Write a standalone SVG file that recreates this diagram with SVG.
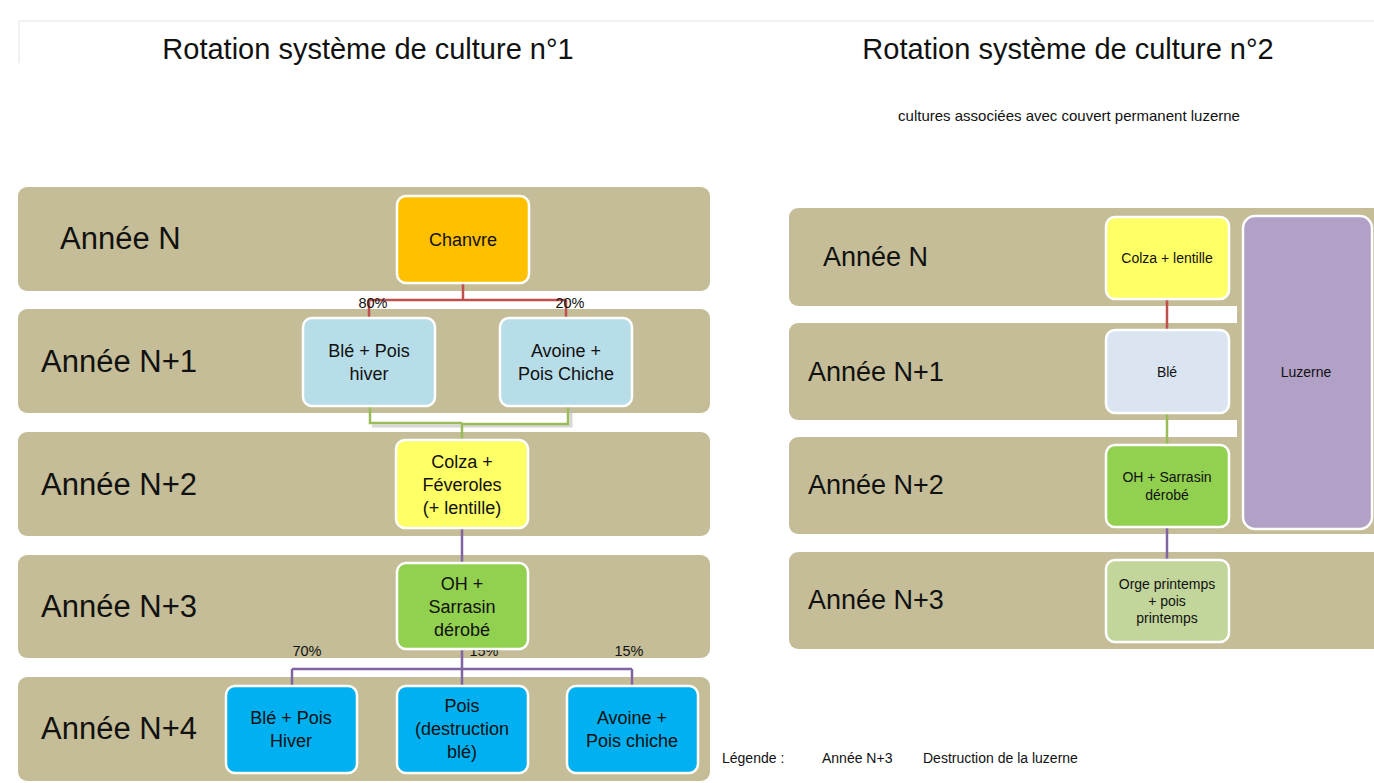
<svg xmlns="http://www.w3.org/2000/svg" width="1374" height="783" viewBox="0 0 1374 783">
<style>
text{font-family:"Liberation Sans",Arial,sans-serif;fill:#111}
.band{fill:#C4BD97}
.box{stroke:#fff;stroke-width:2.5}
.title{font-size:29px}
.rowL{font-size:31px}
.rowR{font-size:27px}
.nl{font-size:18px;text-anchor:middle}
.nr{font-size:14px;text-anchor:middle}
.pct{font-size:14.5px;text-anchor:middle}
.small{font-size:15px}
.leg{font-size:14px}
.c{fill:none;stroke-width:2.5}
.red{stroke:#C0504D}
.green{stroke:#9BBB59}
.purple{stroke:#8064A2}
</style>
<rect width="1374" height="783" fill="#fff"/>
<g id="frame">
<line x1="19" y1="21" x2="1374" y2="21" stroke="#ececec" stroke-width="1.5"/>
<line x1="19" y1="21" x2="19" y2="63" stroke="#ececec" stroke-width="1.5"/>
</g>
<g id="titles">
<text class="title" x="368" y="59" text-anchor="middle">Rotation système de culture n°1</text>
<text class="title" x="1068" y="59" text-anchor="middle">Rotation système de culture n°2</text>
<text class="small" x="1069" y="121" text-anchor="middle">cultures associées avec couvert permanent luzerne</text>
</g>
<g id="bands-left">
<g id="rowL-N"><rect class="band" x="18" y="187" width="692" height="104" rx="9"/><text class="rowL" x="60" y="249">Année N</text></g>
<g id="rowL-N1"><rect class="band" x="18" y="309" width="692" height="104" rx="9"/><text class="rowL" x="41" y="372">Année N+1</text></g>
<g id="rowL-N2"><rect class="band" x="18" y="432" width="692" height="104" rx="9"/><text class="rowL" x="41" y="495">Année N+2</text></g>
<g id="rowL-N3"><rect class="band" x="18" y="555" width="692" height="103" rx="9"/><text class="rowL" x="41" y="617">Année N+3</text></g>
<g id="rowL-N4"><rect class="band" x="18" y="677" width="692" height="104" rx="9"/><text class="rowL" x="41" y="739">Année N+4</text></g>
</g>
<g id="bands-right">
<rect class="band" x="1237" y="208" width="150" height="326"/>
<g id="rowR-N"><rect class="band" x="789" y="208" width="600" height="98" rx="9"/><text class="rowR" x="823" y="266">Année N</text></g>
<g id="rowR-N1"><rect class="band" x="789" y="323" width="600" height="97" rx="9"/><text class="rowR" x="808" y="381">Année N+1</text></g>
<g id="rowR-N2"><rect class="band" x="789" y="437" width="600" height="97" rx="9"/><text class="rowR" x="808" y="494">Année N+2</text></g>
<g id="rowR-N3"><rect class="band" x="789" y="552" width="600" height="97" rx="9"/><text class="rowR" x="808" y="609">Année N+3</text></g>
</g>
<g id="connectors">
<path class="c red" d="M463 283V300M369 300H566M369 300V318M566 300V318"/>
<path d="M372 426H571V409" fill="none" stroke="#bdbdbd" stroke-width="3" opacity="0.6"/>
<path class="c green" d="M370 406V423H462M462 424H568V406M462 423V440"/>
<path class="c purple" d="M462 528V563"/>
<path class="c purple" d="M462 648V686M292 669H632M292 669V686M632 669V686"/>
<path class="c red" d="M1167 299V330"/>
<path class="c green" d="M1167 413V445"/>
<path class="c purple" d="M1167 527V560"/>
</g>
<g id="labels">
<text class="pct" x="373" y="308">80%</text>
<text class="pct" x="570" y="308">20%</text>
<text class="pct" x="307" y="656">70%</text>
<text class="pct" x="484" y="656">15%</text>
<text class="pct" x="629" y="656">15%</text>
</g>
<g id="n-chanvre"><rect class="box" x="397" y="196" width="132" height="87" rx="9" fill="#FFC000"/><text class="nl" x="463" y="246">Chanvre</text></g>
<g id="n-ble1"><rect class="box" x="303" y="318" width="132" height="88" rx="9" fill="#B7DDE8"/><text class="nl" x="369" y="357">Blé + Pois</text><text class="nl" x="369" y="380">hiver</text></g>
<g id="n-avoine1"><rect class="box" x="500" y="318" width="132" height="88" rx="9" fill="#B7DDE8"/><text class="nl" x="566" y="357">Avoine +</text><text class="nl" x="566" y="380">Pois Chiche</text></g>
<g id="n-colza1"><rect class="box" x="396" y="440" width="132" height="88" rx="9" fill="#FFFF66"/><text class="nl" x="462" y="468">Colza +</text><text class="nl" x="462" y="491">Féveroles</text><text class="nl" x="462" y="514">(+ lentille)</text></g>
<g id="n-oh1"><rect class="box" x="397" y="563" width="131" height="86" rx="9" fill="#92D050"/><text class="nl" x="462" y="590">OH +</text><text class="nl" x="462" y="613">Sarrasin</text><text class="nl" x="462" y="636">dérobé</text></g>
<g id="n-ble4"><rect class="box" x="226" y="686" width="131" height="87" rx="9" fill="#00B0F0"/><text class="nl" x="291" y="724">Blé + Pois</text><text class="nl" x="291" y="747">Hiver</text></g>
<g id="n-pois4"><rect class="box" x="397" y="686" width="131" height="87" rx="9" fill="#00B0F0"/><text class="nl" x="462" y="712">Pois</text><text class="nl" x="462" y="735">(destruction</text><text class="nl" x="462" y="758">blé)</text></g>
<g id="n-avoine4"><rect class="box" x="567" y="686" width="131" height="87" rx="9" fill="#00B0F0"/><text class="nl" x="632" y="724">Avoine +</text><text class="nl" x="632" y="747">Pois chiche</text></g>
<g id="n-colza2"><rect class="box" x="1106" y="217" width="123" height="82" rx="9" fill="#FFFF66"/><text class="nr" x="1167" y="263">Colza + lentille</text></g>
<g id="n-ble2"><rect class="box" x="1106" y="330" width="123" height="83" rx="9" fill="#DBE5F1"/><text class="nr" x="1167" y="377">Blé</text></g>
<g id="n-oh2"><rect class="box" x="1106" y="445" width="123" height="82" rx="9" fill="#92D050"/><text class="nr" x="1167" y="482">OH + Sarrasin</text><text class="nr" x="1167" y="500">dérobé</text></g>
<g id="n-orge2"><rect class="box" x="1106" y="560" width="123" height="82" rx="9" fill="#C2D69B"/><text class="nr" x="1167" y="589">Orge printemps</text><text class="nr" x="1167" y="606">+ pois</text><text class="nr" x="1167" y="623">printemps</text></g>
<g id="n-luzerne"><rect class="box" x="1243" y="216" width="129" height="313" rx="12" fill="#B2A1C7"/><text class="nr" x="1306" y="377">Luzerne</text></g>
<g id="legend">
<text class="leg" x="722" y="763">Légende :</text>
<text class="leg" x="822" y="763">Année N+3</text>
<text class="leg" x="923" y="763">Destruction de la luzerne</text>
</g>
</svg>
